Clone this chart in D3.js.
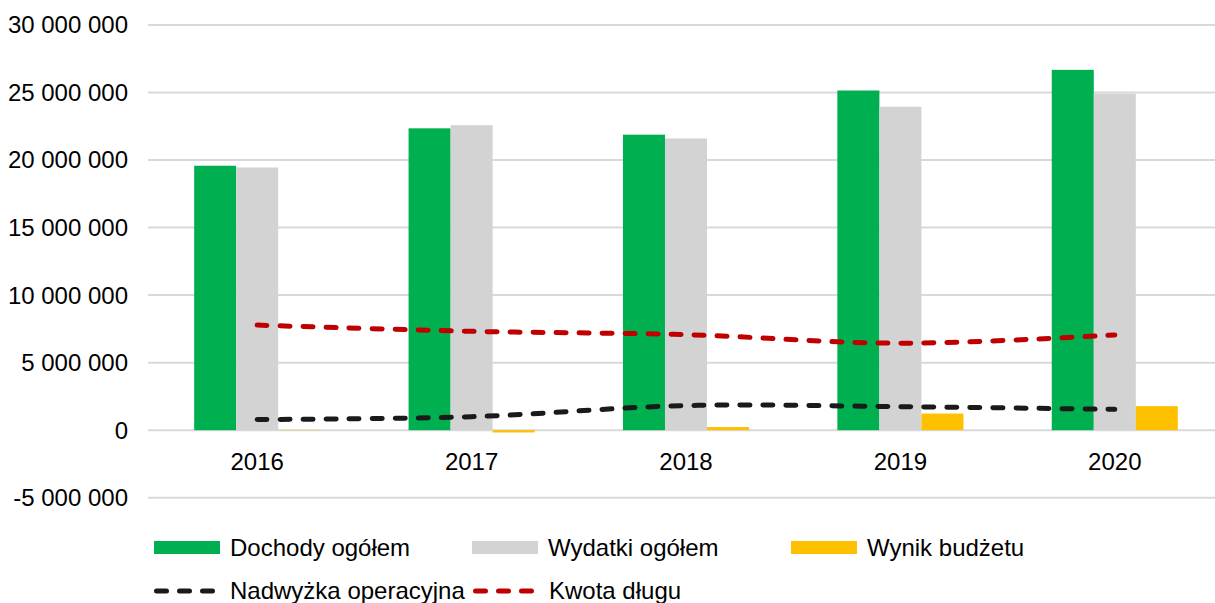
<!DOCTYPE html>
<html>
<head>
<meta charset="utf-8">
<script src="https://cdn.jsdelivr.net/npm/d3@7"></script>
<style>
  body { margin: 0; background: #fff; }
  text { font-family: "Liberation Sans", Arial, sans-serif; fill: #000; }
</style>
</head>
<body>
<svg id="wykres"></svg>
<script>
const lata = ['2016', '2017', '2018', '2019', '2020'];
const dochody = [19580000, 22350000, 21880000, 25150000, 26680000];
const wydatki = [19450000, 22580000, 21600000, 23950000, 24920000];
const wynik = [20000, -170000, 230000, 1230000, 1780000];
const nadwyzka = [790000, 1000000, 1820000, 1740000, 1540000];
const kwotaDlugu = [7780000, 7320000, 7070000, 6440000, 7050000];
const ticksY = [-5000000, 0, 5000000, 10000000, 15000000, 20000000, 25000000, 30000000];

const szerokosc = 1215, wysokosc = 603;
const svg = d3.select('#wykres').attr('width', szerokosc).attr('height', wysokosc);

const seriaSlupki = [
  { nazwa: 'Dochody ogółem', wartosci: dochody, kolor: '#00B050' },
  { nazwa: 'Wydatki ogółem', wartosci: wydatki, kolor: '#D3D3D3' },
  { nazwa: 'Wynik budżetu', wartosci: wynik, kolor: '#FFC000' }
];
const serieLinie = [
  { nazwa: 'Nadwyżka operacyjna', wartosci: nadwyzka, kolor: '#1A1A1A' },
  { nazwa: 'Kwota długu', wartosci: kwotaDlugu, kolor: '#C00000' }
];

const x = d3.scaleBand().domain(lata).range([150, 1222]).paddingInner(0.412).paddingOuter(0.206);
const xSeria = d3.scaleBand().domain(d3.range(3)).range([0, x.bandwidth()]);
const y = d3.scaleLinear().domain([-5000000, 30000000]).range([497.7, 25]);

const pl = d3.formatLocale({ decimal: ',', thousands: ' ', grouping: [3], currency: ['', ''], minus: '-' });
const fmt = pl.format(',');

// linie siatki
svg.append('g').selectAll('line').data(ticksY).join('line')
    .attr('x1', 148).attr('x2', szerokosc)
    .attr('y1', d => y(d)).attr('y2', d => y(d))
    .attr('stroke', '#D9D9D9').attr('stroke-width', 2);

// etykiety osi Y
svg.append('g').selectAll('text').data(ticksY).join('text')
    .attr('x', 128).attr('y', d => y(d)).attr('dy', '0.35em')
    .attr('text-anchor', 'end').attr('font-size', 24)
    .text(d => fmt(d));

// etykiety osi X
svg.append('g').selectAll('text').data(lata).join('text')
    .attr('x', d => x(d) + x.bandwidth() / 2).attr('y', 462).attr('dy', '0.35em')
    .attr('text-anchor', 'middle').attr('font-size', 24)
    .text(d => d);

// słupki
seriaSlupki.forEach((s, i) => {
  svg.append('g').selectAll('rect').data(s.wartosci).join('rect')
      .attr('x', (d, j) => x(lata[j]) + xSeria(i))
      .attr('width', xSeria.bandwidth())
      .attr('y', d => y(Math.max(0, d)))
      .attr('height', d => Math.abs(y(d) - y(0)))
      .attr('fill', s.kolor);
});

// linie przerywane
const linia = d3.line()
    .x((d, j) => x(lata[j]) + x.bandwidth() / 2)
    .y(d => y(d))
    .curve(d3.curveCatmullRom.alpha(0.5));

serieLinie.forEach(s => {
  svg.append('path')
      .datum(s.wartosci)
      .attr('d', linia)
      .attr('fill', 'none')
      .attr('stroke', s.kolor)
      .attr('stroke-width', 5)
      .attr('stroke-linecap', 'round')
      .attr('stroke-dasharray', '10,13');
});

// legenda
const legenda = [
  { s: seriaSlupki[0], x: 154, y: 548, typ: 'rect' },
  { s: seriaSlupki[1], x: 472, y: 548, typ: 'rect' },
  { s: seriaSlupki[2], x: 791, y: 548, typ: 'rect' },
  { s: serieLinie[0], x: 154, y: 591, typ: 'line' },
  { s: serieLinie[1], x: 473, y: 591, typ: 'line' }
];
legenda.forEach(l => {
  const g = svg.append('g');
  if (l.typ === 'rect') {
    g.append('rect').attr('x', l.x).attr('y', l.y - 7).attr('width', 66).attr('height', 13).attr('fill', l.s.kolor);
  } else {
    g.append('line').attr('x1', l.x + 2.5).attr('x2', l.x + 64).attr('y1', l.y).attr('y2', l.y)
        .attr('stroke', l.s.kolor).attr('stroke-width', 5).attr('stroke-linecap', 'round')
        .attr('stroke-dasharray', '10,13');
  }
  g.append('text').attr('x', l.x + 76).attr('y', l.y).attr('dy', '0.35em')
      .attr('font-size', 24).text(l.s.nazwa);
});
</script>
</body>
</html>
